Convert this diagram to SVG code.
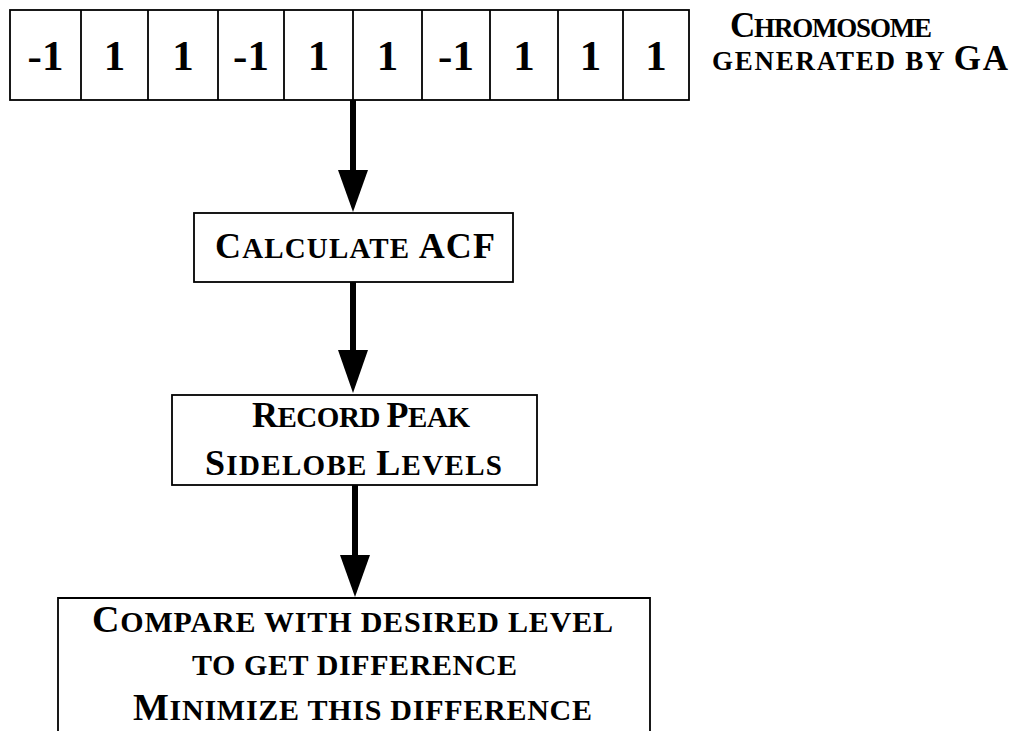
<svg xmlns="http://www.w3.org/2000/svg" width="1032" height="731" viewBox="0 0 1032 731">
  <style>
    .box { fill: #fff; stroke: #000; stroke-width: 1.8; }
    .cell { fill: none; stroke: #000; stroke-width: 1.8; }
    .lbl { font-family: "Liberation Serif", "Times New Roman", serif; font-weight: bold; fill: #000; text-anchor: middle; }
    .digit { font-family: "Liberation Serif", "Times New Roman", serif; font-weight: bold; font-size: 43px; fill: #000; text-anchor: middle; }
    .big { font-size: 36px; }
    .sc { font-size: 29px; }
    .bigL { font-size: 35px; }
    .scL { font-size: 27px; }
    .big2 { font-size: 38px; }
    .sc2 { font-size: 30px; }
    .shaft { stroke: #000; stroke-width: 6; }
    .head { fill: #000; }
  </style>

  <rect width="1032" height="731" fill="#fff"/>

  <!-- chromosome: ten genes -->
  <g id="chromosome">
    <rect class="box" x="10" y="10" width="679" height="90"/>
    <path class="cell" d="M81,10V100 M148,10V100 M218,10V100 M284,10V100 M353,10V100 M422,10V100 M490,10V100 M558,10V100 M623,10V100"/>
    <text class="digit" x="45.5" y="70">-1</text>
    <text class="digit" x="114.5" y="70">1</text>
    <text class="digit" x="183" y="70">1</text>
    <text class="digit" x="251" y="70">-1</text>
    <text class="digit" x="318.5" y="70">1</text>
    <text class="digit" x="387.5" y="70">1</text>
    <text class="digit" x="456" y="70">-1</text>
    <text class="digit" x="524" y="70">1</text>
    <text class="digit" x="590.5" y="70">1</text>
    <text class="digit" x="656" y="70">1</text>
  </g>

  <g id="chromosome-label">
    <text class="lbl" x="831" y="37" textLength="202" lengthAdjust="spacing"><tspan class="bigL">C</tspan><tspan class="scL">HROMOSOME</tspan></text>
    <text class="lbl" x="860" y="70" textLength="296" lengthAdjust="spacing"><tspan class="scL">GENERATED BY </tspan><tspan class="bigL">GA</tspan></text>
  </g>

  <g id="calculate-acf">
    <rect class="box" x="194" y="213" width="319" height="69"/>
    <text class="lbl" x="355" y="258" textLength="280" lengthAdjust="spacing"><tspan class="big">C</tspan><tspan class="sc">ALCULATE </tspan><tspan class="big">ACF</tspan></text>
  </g>

  <g id="record-psl">
    <rect class="box" x="172" y="395" width="365" height="90"/>
    <text class="lbl" x="361" y="427" textLength="218" lengthAdjust="spacing"><tspan class="big">R</tspan><tspan class="sc">ECORD </tspan><tspan class="big">P</tspan><tspan class="sc">EAK</tspan></text>
    <text class="lbl" x="353.5" y="475" textLength="297" lengthAdjust="spacing"><tspan class="big">S</tspan><tspan class="sc">IDELOBE </tspan><tspan class="big">L</tspan><tspan class="sc">EVELS</tspan></text>
  </g>

  <g id="compare-minimize">
    <path class="box" d="M58,740V598H650V740"/>
    <text class="lbl" x="352.5" y="632" textLength="521" lengthAdjust="spacing"><tspan class="big2">C</tspan><tspan class="sc2">OMPARE WITH DESIRED LEVEL</tspan></text>
    <text class="lbl" x="354.5" y="675" textLength="325" lengthAdjust="spacing"><tspan class="sc2">TO GET DIFFERENCE</tspan></text>
    <text class="lbl" x="362.5" y="720" textLength="459" lengthAdjust="spacing"><tspan class="big2">M</tspan><tspan class="sc2">INIMIZE THIS DIFFERENCE</tspan></text>
  </g>

  <!-- flow connectors -->
  <g id="connectors">
    <line class="shaft" x1="353" y1="100" x2="353" y2="172"/>
    <polygon class="head" points="338,170 368,170 353,212"/>
    <line class="shaft" x1="353" y1="282" x2="353" y2="352"/>
    <polygon class="head" points="338,350 368,350 353,393"/>
    <line class="shaft" x1="355" y1="485" x2="355" y2="557"/>
    <polygon class="head" points="340,555 370,555 355,597"/>
  </g>
</svg>
